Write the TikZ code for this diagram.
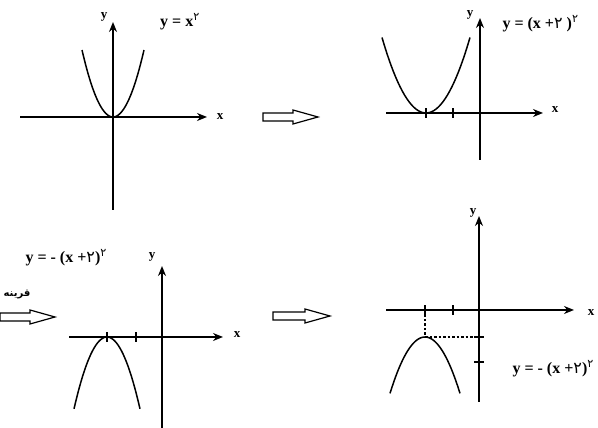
\documentclass[tikz,border=0pt]{standalone}
\usepackage{fontspec}
\setmainfont{Liberation Serif}
\newfontfamily\fa[Script=Arabic]{DejaVu Sans}
\usetikzlibrary{arrows.meta}
\TeXXeTstate=1
\newcommand\sq{\textsuperscript{\mdseries\fa ۲}}
\newcommand\two{{\mdseries\fa ۲}}

\tikzset{
  axisline/.style={line width=1.8pt,-{Stealth[length=10pt,width=8pt]}},
  graph/.style={line width=1.5pt},
  ticks/.style={line width=1.4pt},
  guide/.style={line width=1.4pt,dash pattern=on 2.5pt off 2pt},
  hollowarrow/.style={draw,line width=1.2pt,line join=miter},
  axlabel/.style={font=\bfseries\fontsize{13}{15}\selectfont},
  eqlabel/.style={font=\bfseries\fontsize{16}{19}\selectfont},
}

\begin{document}
\begin{tikzpicture}[x=1pt,y=1pt]
  \useasboundingbox (0,0) rectangle (598,428);

  % y = x^2
  \begin{scope}[shift={(113,311)}]
    \draw[axisline] (-93,0) -- (94,0);
    \draw[axisline] (0,-93) -- (0,95);
    \draw[graph] plot[domain=-31:31,samples=40] (\x,{0.0697*\x*\x});
    \node[axlabel] (x1) at (107,0) {x};
    \node[axlabel] (y1) at (-9,100) {y};
    \node[eqlabel] (eq1) at (67,95) {y = x\sq};
  \end{scope}

  % shift left
  \begin{scope}[shift={(480,315)}]
    \draw[axisline] (-94,0) -- (63,0);
    \draw[axisline] (0,-47) -- (0,95);
    \foreach \t in {-54,-27}
      \draw[ticks] (\t,-5) -- (\t,5);
    \draw[graph] plot[domain=-44:44,samples=40] ({-54+\x},{0.039*\x*\x});
    \node[axlabel] (x2) at (75,3) {x};
    \node[axlabel] (y2) at (-10,98) {y};
    \node[eqlabel,anchor=west] (eq2) at (19,89) {y = (x +\two\ )\sq};
  \end{scope}

  % reflection
  \begin{scope}[shift={(162,91)}]
    \draw[axisline] (-93,0) -- (61,0);
    \draw[axisline] (0,-95) -- (0,71);
    \foreach \t in {-55,-26}
      \draw[ticks] (\t,-5) -- (\t,5);
    \draw[graph] plot[domain=-33:33,samples=40] ({-55+\x},{-0.066*\x*\x});
    \node[axlabel] (x3) at (75,2) {x};
    \node[axlabel] (y3) at (-10,80) {y};
    \node[eqlabel,anchor=west] (eq3) at (-140,79) {y = - (x +\two)\sq};
  \end{scope}

  % shift down
  \begin{scope}[shift={(479,118)}]
    \draw[axisline] (-93,0) -- (95,0);
    \draw[axisline] (0,-92) -- (0,94);
    \foreach \t in {-54,-26}
      \draw[ticks] (\t,-5) -- (\t,5);
    \foreach \t in {-27,-52}
      \draw[ticks] (-5,\t) -- (5,\t);
    \coordinate (top) at (-54,-27);
    \draw[guide] (-54,0) -- (top) -- (0,-27);
    \draw[graph] plot[domain=-35:35,samples=40] ({-54+\x},{-27-0.046*\x*\x});
    \node[axlabel] (x4) at (112,-3) {x};
    \node[axlabel] (y4) at (-6,97) {y};
    \node[eqlabel,anchor=west] (eq4) at (30,-59) {y = - (x +\two)\sq};
  \end{scope}

  % hollow arrows
  \foreach \xa/\xb/\ya in {263/318/311, 0/55/111, 273/330/112}
    \draw[hollowarrow] (\xa,\ya-4) -- (\xb-25,\ya-4) -- (\xb-25,\ya-7)
      -- (\xb,\ya) -- (\xb-25,\ya+7) -- (\xb-25,\ya+4) -- (\xa,\ya+4) -- cycle;
  \node[font=\fa\bfseries\fontsize{10}{12}\selectfont] (refl) at (17,133) {\beginR قرینه\endR};
\end{tikzpicture}
\end{document}
